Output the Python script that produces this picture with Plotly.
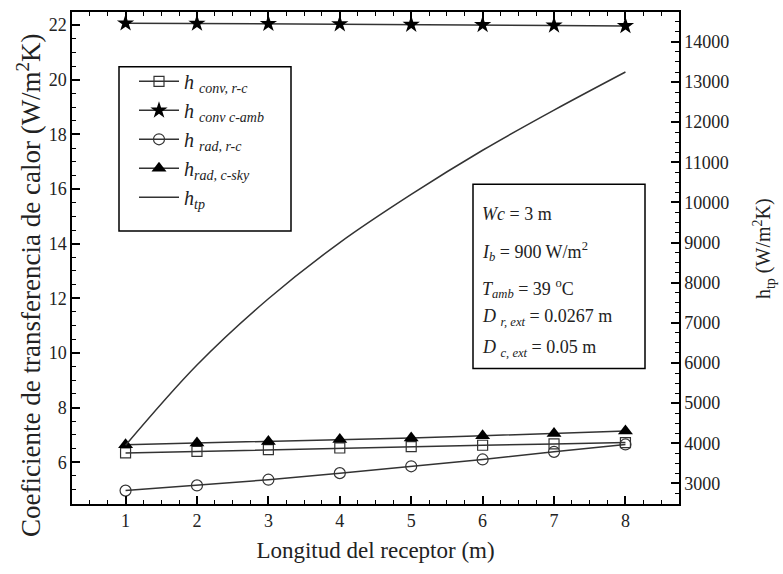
import plotly.graph_objects as go

# ---- data ----
longitud = [1, 2, 3, 4, 5, 6, 7, 8]
h_conv_rc = [6.34, 6.40, 6.46, 6.52, 6.57, 6.62, 6.67, 6.72]
h_conv_camb = [22.07, 22.06, 22.05, 22.04, 22.02, 22.01, 21.99, 21.97]
h_rad_rc = [4.96, 5.15, 5.36, 5.60, 5.85, 6.10, 6.38, 6.65]
h_rad_csky = [6.64, 6.70, 6.76, 6.83, 6.89, 6.97, 7.05, 7.14]
h_tp = [3950, 5950, 7600, 9000, 10200, 11300, 12300, 13250]

x_ticks = [1, 2, 3, 4, 5, 6, 7, 8]

names = [
    "<i>h</i> <sub><i>conv, r-c</i></sub>",
    "<i>h</i> <sub><i>conv c-amb</i></sub>",
    "<i>h</i> <sub><i>rad, r-c</i></sub>",
    "<i>h</i><sub><i>rad, c-sky</i></sub>",
    "<i>h</i><sub><i>tp</i></sub>",
]

FONT = "'Liberation Serif', 'Times New Roman', serif"
LC = "#333333"
TC = "#222222"

W, H = 783, 574
L, R, T, B = 72, 104, 10, 70


def px(xp):
    return (xp - L) / (W - L - R)


def py(yp):
    return (H - B - yp) / (H - T - B)


fig = go.Figure()
fig.add_trace(go.Scatter(x=longitud, y=h_conv_rc, name=names[0], mode="lines+markers", legendgroup="a",
                         line=dict(color=LC, width=1.5),
                         marker=dict(symbol="square-open", size=10, color=LC, line=dict(width=1.2))))
fig.add_trace(go.Scatter(x=longitud, y=h_conv_camb, name=names[1], mode="lines+markers", legendgroup="b",
                         line=dict(color=LC, width=1.5),
                         marker=dict(symbol="star", size=13, color="black")))
fig.add_trace(go.Scatter(x=longitud, y=h_rad_rc, name=names[2], mode="lines+markers", legendgroup="c",
                         line=dict(color=LC, width=1.5),
                         marker=dict(symbol="circle-open", size=11, color=LC, line=dict(width=1.2))))
fig.add_trace(go.Scatter(x=longitud, y=h_rad_csky, name=names[3], mode="lines+markers", legendgroup="d",
                         line=dict(color=LC, width=1.5),
                         marker=dict(symbol="triangle-up", size=13, color="black")))
fig.add_trace(go.Scatter(x=longitud, y=h_tp, name=names[4], mode="lines", yaxis="y2", legendgroup="e",
                         line=dict(color=LC, width=1.5, shape="spline")))

axis_common = dict(
    showline=True, linecolor="black", linewidth=1.5,
    ticks="inside", ticklen=8, tickwidth=1.5, tickcolor="black",
    showgrid=False, zeroline=False,
    tickfont=dict(family=FONT, size=18, color=TC),
)

fig.update_layout(
    width=W, height=H,
    margin=dict(l=L, r=R, t=T, b=B),
    paper_bgcolor="white", plot_bgcolor="white",
    font=dict(family=FONT, color=TC),
    xaxis=dict(range=[0.25, 8.75], tickvals=x_ticks, mirror="ticks",
               minor=dict(dtick=0.25, tick0=0, ticklen=4, tickwidth=1.2, tickcolor="black", ticks="inside"),
               title=dict(text="Longitud del receptor (m)", font=dict(family=FONT, size=23), standoff=12),
               **axis_common),
    yaxis=dict(range=[4.47, 22.48], dtick=2, tick0=0,
               minor=dict(dtick=0.5, tick0=0, ticklen=4, tickwidth=1.2, tickcolor="black", ticks="inside"),
               **axis_common),
    yaxis2=dict(range=[2486, 14745], dtick=1000, tick0=0, overlaying="y", side="right", tickformat="d",
                minor=dict(dtick=250, tick0=0, ticklen=4, tickwidth=1.2, tickcolor="black", ticks="inside"),
                **axis_common),
    legend=dict(x=px(134), y=py(60), xanchor="left", yanchor="top",
                bgcolor="rgba(0,0,0,0)", borderwidth=0,
                font=dict(family=FONT, size=20, color=TC),
                itemwidth=40, tracegroupgap=4, traceorder="normal"),
    showlegend=True,
)

# legend frame
fig.add_shape(type="rect", xref="paper", yref="paper",
              x0=px(119), x1=px(291), y0=py(230), y1=py(65),
              line=dict(color="black", width=1.5), fillcolor="white", layer="above")

# axis titles
fig.add_annotation(xref="paper", yref="paper", x=px(29), y=py(285), textangle=-90,
                   xanchor="center", yanchor="middle", showarrow=False,
                   text="Coeficiente de transferencia de calor (W/m<sup>2</sup>K)",
                   font=dict(family=FONT, size=27, color=TC))
fig.add_annotation(xref="paper", yref="paper", x=px(764), y=py(248), textangle=-90,
                   xanchor="center", yanchor="middle", showarrow=False,
                   text="h<sub>tp</sub> (W/m<sup>2</sup>K)",
                   font=dict(family=FONT, size=20, color=TC))

# parameters box
fig.add_shape(type="rect", xref="paper", yref="paper",
              x0=px(473), x1=px(645), y0=py(368), y1=py(183),
              line=dict(color="black", width=1.5), fillcolor="white", layer="above")

params = [
    "<i>Wc</i> = 3 m",
    "<i>I<sub>b</sub></i> = 900 W/m<sup>2</sup>",
    "<i>T<sub>amb</sub></i> = 39 <sup>o</sup>C",
    "<i>D</i> <sub><i>r, ext</i></sub> = 0.0267 m",
    "<i>D</i> <sub><i>c, ext</i></sub> = 0.05 m",
]
param_y = [213, 250, 288, 317, 348]
for txt, yy in zip(params, param_y):
    fig.add_annotation(xref="paper", yref="paper", x=px(480), y=py(yy),
                       xanchor="left", yanchor="middle", showarrow=False,
                       text=txt, font=dict(family=FONT, size=18, color=TC))

fig.write_html("out.html")
